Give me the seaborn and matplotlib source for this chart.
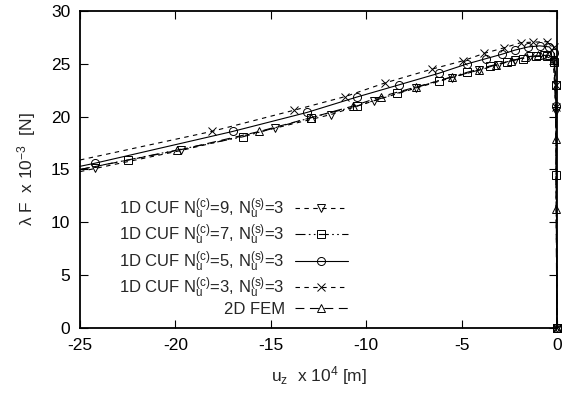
import numpy as np
import seaborn as sns
import matplotlib
matplotlib.use("Agg")
import matplotlib.pyplot as plt

# values (u_z x 1e4 [m], lambda F x 1e-3 [N])
x_cuf9 = [-25.0, -24.2, -19.7, -14.8, -11.85, -9.6, -7.4, -5.5, -4.1, -3.1, -2.2, -1.4, -0.7, -0.2, -0.05, 0.0]
y_cuf9 = [14.8, 15.1, 16.8, 18.9, 20.2, 21.5, 22.7, 23.7, 24.4, 24.9, 25.4, 25.7, 25.8, 25.4, 20.5, 0.0]

x_cuf7 = [-25.0, -22.5, -16.45, -12.9, -10.5, -8.4, -6.2, -4.7, -3.5, -2.6, -1.8, -1.1, -0.5, -0.15, -0.05, -0.05, 0.0]
y_cuf7 = [15.0, 15.9, 18.1, 19.9, 21.0, 22.2, 23.4, 24.2, 24.8, 25.2, 25.5, 25.7, 25.7, 25.2, 23.0, 14.5, 0.0]

x_cuf5 = [-25.0, -24.2, -17.0, -13.1, -10.5, -8.3, -6.2, -4.7, -3.7, -2.9, -2.2, -1.5, -0.9, -0.4, -0.15, -0.05, 0.0]
y_cuf5 = [15.3, 15.6, 18.6, 20.4, 21.85, 23.0, 24.1, 25.0, 25.5, 25.9, 26.3, 26.6, 26.7, 26.6, 26.0, 21.0, 0.0]

x_cuf3 = [-25.0, -18.1, -13.8, -11.1, -9.0, -6.55, -4.9, -3.8, -2.8, -1.9, -1.25, -0.5, -0.15, -0.05, -0.05, 0.0]
y_cuf3 = [15.9, 18.6, 20.6, 21.9, 23.2, 24.5, 25.3, 26.0, 26.5, 27.0, 27.05, 27.1, 26.6, 23.0, 20.9, 0.0]

x_fem = [-25.0, -19.9, -15.6, -12.9, -10.7, -9.2, -7.4, -5.5, -4.1, -3.2, -2.4, -1.7, -1.0, -0.4, -0.15, -0.05, -0.05, 0.0]
y_fem = [15.0, 16.8, 18.6, 19.9, 21.0, 21.9, 22.8, 23.75, 24.4, 24.9, 25.3, 25.6, 25.8, 25.8, 25.4, 17.9, 11.3, 0.0]

labels = [
    r"1D CUF $\mathrm{N}_\mathrm{u}^{(\mathrm{c})}$=9, $\mathrm{N}_\mathrm{u}^{(\mathrm{s})}$=3",
    r"1D CUF $\mathrm{N}_\mathrm{u}^{(\mathrm{c})}$=7, $\mathrm{N}_\mathrm{u}^{(\mathrm{s})}$=3",
    r"1D CUF $\mathrm{N}_\mathrm{u}^{(\mathrm{c})}$=5, $\mathrm{N}_\mathrm{u}^{(\mathrm{s})}$=3",
    r"1D CUF $\mathrm{N}_\mathrm{u}^{(\mathrm{c})}$=3, $\mathrm{N}_\mathrm{u}^{(\mathrm{s})}$=3",
    "2D FEM",
]

sns.set_theme(style="ticks")
plt.rcParams["font.family"] = ["Liberation Sans", "DejaVu Sans"]
plt.rcParams["mathtext.fontset"] = "custom"
plt.rcParams["mathtext.rm"] = "Liberation Sans"
plt.rcParams["mathtext.it"] = "Liberation Sans:italic"
plt.rcParams["mathtext.sf"] = "Liberation Sans"
plt.rcParams["axes.unicode_minus"] = False

fig = plt.figure(figsize=(5.65, 3.95), dpi=100)
ax = fig.add_axes([0.1416, 0.1696, 0.8442, 0.8026])

series = [
    (x_cuf9, y_cuf9, "v", (0, (4, 4))),
    (x_cuf7, y_cuf7, "s", (0, (9, 3, 1.5, 3, 1.5, 3))),
    (x_cuf5, y_cuf5, "o", "-"),
    (x_cuf3, y_cuf3, "x", (0, (4, 4))),
    (x_fem, y_fem, "^", (0, (8, 5))),
]

for (xs, ys, mk, ls), lab in zip(series, labels):
    sns.lineplot(x=xs, y=ys, ax=ax, estimator=None, sort=False, color="black",
                 linewidth=0.8, linestyle=ls, marker=mk, markersize=5.8,
                 markerfacecolor="none", markeredgecolor="black",
                 markeredgewidth=0.7, markevery=slice(1, None),
                 clip_on=False, label=lab)

ax.set_xlim(-25, 0)
ax.set_ylim(0, 30)
ax.set_xticks(np.arange(-25, 1, 5))
ax.set_yticks(np.arange(0, 31, 5))
ax.tick_params(direction="in", length=6, width=0.8, top=True, right=True,
               labelsize=12.5, colors="black", pad=7)
for sp in ax.spines.values():
    sp.set_linewidth(1.3)
    sp.set_color("black")

ax.set_xlabel(r"u$_\mathrm{z}$  x 10$^4$ [m]", fontsize=12.5, labelpad=8)
ax.set_ylabel(r"λ F  x 10$^{-3}$  [N]", fontsize=12.5, labelpad=9)

ax.legend(loc="lower right", bbox_to_anchor=(0.562, 0.035), frameon=False,
          markerfirst=False, fontsize=12, handlelength=3.2, handletextpad=0.6,
          labelspacing=0.12, borderpad=0, borderaxespad=0)

fig.savefig("out.png", dpi=100)
